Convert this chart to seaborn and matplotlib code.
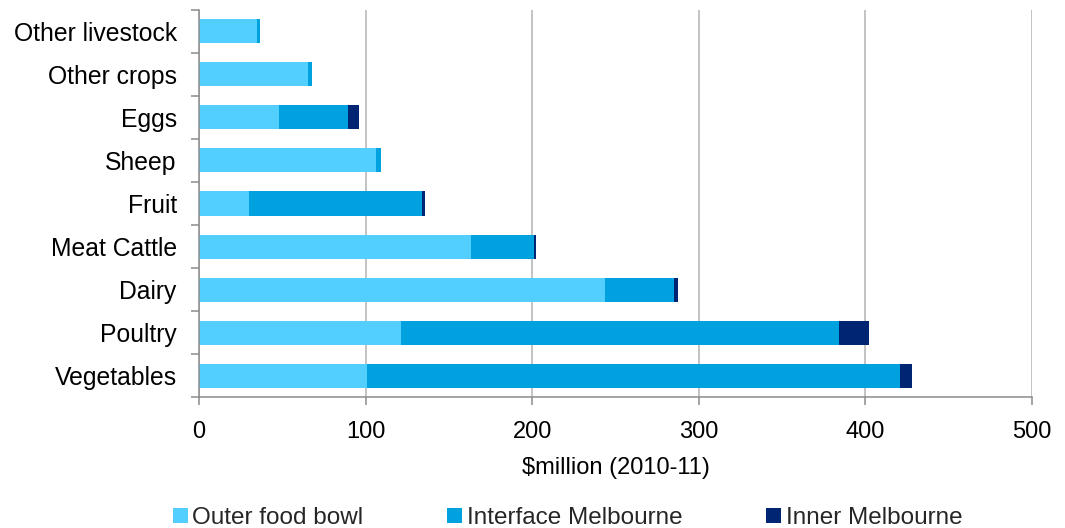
import matplotlib
matplotlib.use("Agg")
import matplotlib.pyplot as plt
import seaborn as sns
import pandas as pd
import numpy as np
from matplotlib.patches import Patch
from matplotlib.ticker import FixedLocator

# Gross value of agricultural production by region ($million, 2010-11)
categories = ["Other livestock", "Other crops", "Eggs", "Sheep", "Fruit",
              "Meat Cattle", "Dairy", "Poultry", "Vegetables"]
outer_food_bowl = [34.5, 65.5, 48, 106, 30, 163, 243.5, 121, 101]
interface_melbourne = [2, 2.3, 41.5, 3, 104, 38, 41.5, 263, 319.5]
inner_melbourne = [0, 0, 6.5, 0, 1.8, 1.4, 2.3, 18, 7.3]

series_names = ["Outer food bowl", "Interface Melbourne", "Inner Melbourne"]
colors = ["#53CFFF", "#00A1DF", "#002673"]

df = pd.DataFrame({
    "category": categories,
    "outer": outer_food_bowl,
    "interface": interface_melbourne,
    "inner": inner_melbourne,
})
df["cum_outer"] = df["outer"]
df["cum_interface"] = df["cum_outer"] + df["interface"]
df["cum_inner"] = df["cum_interface"] + df["inner"]

sns.set_theme(style="white")
plt.rcParams["font.family"] = ["Liberation Sans", "DejaVu Sans"]

fig = plt.figure(figsize=(10.65, 5.28), dpi=100)
ax = fig.add_axes([0.1869, 0.2472, 0.969 - 0.1869, 0.982 - 0.2472])

# stacked bars drawn as overlapping cumulative totals
for col, color in zip(["cum_inner", "cum_interface", "cum_outer"],
                      [colors[2], colors[1], colors[0]]):
    sns.barplot(data=df, y="category", x=col, color=color, orient="h",
                width=0.56, saturation=1, ax=ax, order=categories,
                linewidth=0, zorder=3)

ax.set_xlim(0, 500)
ax.set_ylim(len(categories) - 0.5, -0.5)
ax.set_xticks([0, 100, 200, 300, 400, 500])
ax.grid(axis="x", color="#b3b3b3", linewidth=1.1, zorder=0)
ax.grid(axis="y", visible=False)

grey = "#8c8c8c"
for side in ["top", "right"]:
    ax.spines[side].set_visible(False)
for side in ["left", "bottom"]:
    ax.spines[side].set_color(grey)
    ax.spines[side].set_linewidth(1.1)
    ax.spines[side].set_zorder(4)

# category labels without ticks; ticks at category boundaries
ax.yaxis.set_minor_locator(FixedLocator(np.arange(-0.5, len(categories), 1.0)))
ax.tick_params(axis="y", which="major", length=0, pad=16, labelsize=17.8,
               labelcolor="black")
ax.tick_params(axis="y", which="minor", left=True, length=6, width=1.1,
               color=grey)
ax.tick_params(axis="x", which="major", bottom=True, length=6, width=1.1,
               color=grey, pad=11, labelsize=17, labelcolor="black")

ax.set_ylabel("")
ax.set_xlabel(r"\$million (2010-11)", fontsize=17, color="black", labelpad=10)

handles = [Patch(facecolor=c, edgecolor="none") for c in colors]
fig.legend(handles, series_names, loc="center",
           bbox_to_anchor=(0.533, 0.019), ncol=3, frameon=False,
           fontsize=17.5, handlelength=0.6, handleheight=0.6,
           handletextpad=0.2, columnspacing=3.45, borderpad=0)

fig.savefig("out.png", dpi=100)
